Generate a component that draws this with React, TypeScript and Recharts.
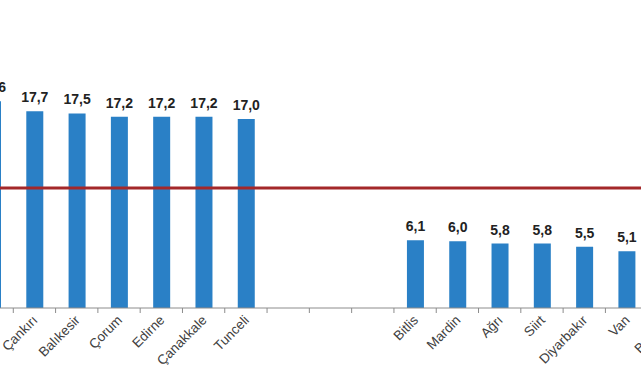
import React from 'react';
import { BarChart, Bar, XAxis, YAxis, ReferenceLine, LabelList } from 'recharts';

// Provinces (cropped view: the first and last bars sit partly outside the frame)
const provinces = [
  'Sinop', 'Çankırı', 'Balıkesir', 'Çorum', 'Edirne', 'Çanakkale', 'Tunceli',
  ' ', '  ', '   ',
  'Bitlis', 'Mardin', 'Ağrı', 'Siirt', 'Diyarbakır', 'Van', 'Batman',
];
const values: (number | null)[] = [
  18.6, 17.7, 17.5, 17.2, 17.2, 17.2, 17.0,
  null, null, null,
  6.1, 6.0, 5.8, 5.8, 5.5, 5.1, 4.9,
];
const turkeyAverage = 10.8;

const data = provinces.map((name, i) => ({ name, value: values[i] }));

const CHART_W = 719;
const CHART_H = 380;
const band = CHART_W / provinces.length;

const fmt = (v: any) => (v == null ? '' : Number(v).toFixed(1).replace('.', ','));

const ProvinceTick = (props: any) => {
  const { x, y, payload } = props;
  const label = String(payload.value).trim();
  return (
    <g transform={`translate(${x},${y})`}>
      <line x1={-band / 2} y1={0} x2={-band / 2} y2={5} stroke="#8c8c8c" strokeWidth={1} />
      {label && (
        <text
          transform="translate(4,13) rotate(-45)"
          textAnchor="end"
          fontSize={13.5}
          fill="#404040"
          fontFamily="Liberation Sans, Arial, sans-serif"
        >
          {label}
        </text>
      )}
    </g>
  );
};

export default function App() {
  return (
    <div style={{ position: 'absolute', left: 0, top: 0, width: 641, height: 380, overflow: 'hidden', background: '#fff' }}>
      <div style={{ position: 'absolute', left: -29, top: 0 }}>
        <BarChart
          width={CHART_W}
          height={CHART_H}
          data={data}
          margin={{ top: 30, right: 0, bottom: 0, left: 0 }}
          barSize={17}
        >
          <XAxis
            dataKey="name"
            interval={0}
            height={72}
            axisLine={{ stroke: '#8c8c8c', strokeWidth: 1 }}
            tickLine={false}
            tickSize={0}
            tickMargin={0}
            tick={<ProvinceTick />}
          />
          <YAxis hide domain={[0, 25]} />
          <Bar dataKey="value" fill="#2a80c6" isAnimationActive={false}>
            <LabelList
              dataKey="value"
              position="top"
              offset={9}
              formatter={fmt}
              style={{ fontSize: 14, fontWeight: 'bold', fill: '#222', fontFamily: 'Liberation Sans, Arial, sans-serif' }}
            />
          </Bar>
          <ReferenceLine y={turkeyAverage} stroke="#a4282a" strokeWidth={3} />
        </BarChart>
      </div>
    </div>
  );
}
